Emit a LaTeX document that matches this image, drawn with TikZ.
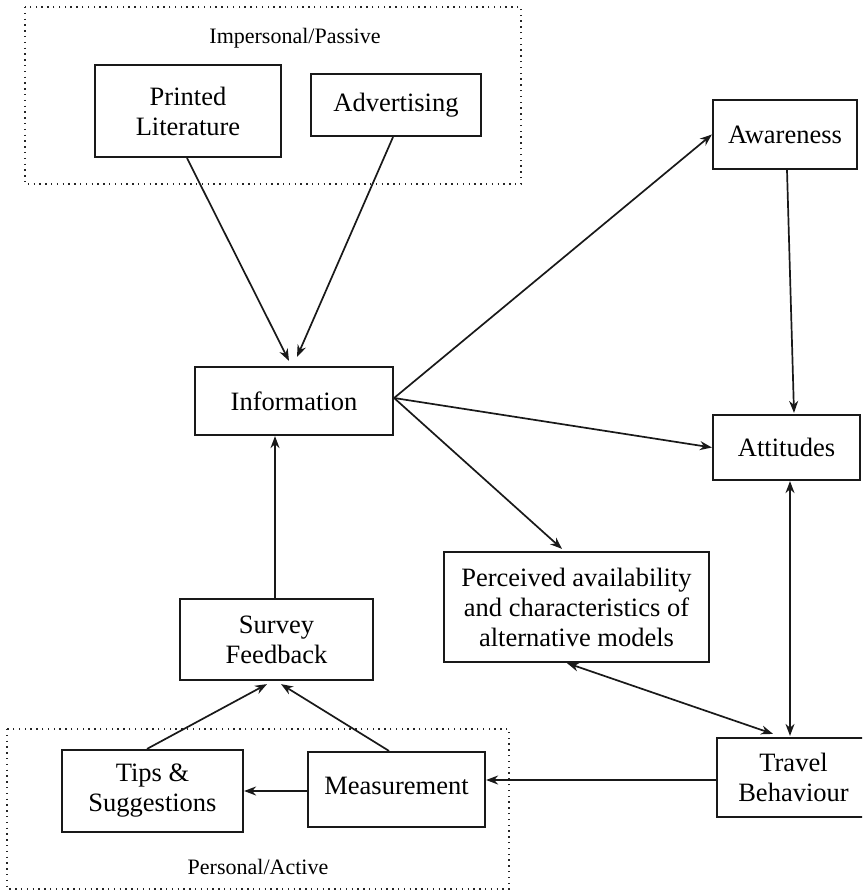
\documentclass[tikz,border=0pt]{standalone}
\usepackage{fontspec}
\setmainfont{Liberation Serif}
\usetikzlibrary{arrows.meta}
\begin{document}
\begin{tikzpicture}[x=1pt,y=-1pt,
  box/.style={draw=black!90, line width=2.2pt, align=center, inner sep=0pt,
    font=\fontsize{26.5}{30}\selectfont},
  arr/.style={line width=1.7pt, draw=black!90, -{Stealth[length=12pt,width=9pt]}},
  biarr/.style={line width=1.7pt, draw=black!90, {Stealth[length=12pt,width=9pt]}-{Stealth[length=12pt,width=9pt]}},
  dotbox/.style={draw=black!85, line width=1.5pt, dash pattern=on 1.4pt off 4.4pt},
  grouplabel/.style={font=\fontsize{22}{26}\selectfont, inner sep=0pt}]
\path[use as bounding box] (0,0) rectangle (862,893);
\clip (0,0) rectangle (862,893);

% group frames
\draw[dotbox] (25,7) rectangle (521,184);
\node[grouplabel] (gtop) at (295,38) {Impersonal/Passive};
\draw[dotbox] (7,729) rectangle (509,889);
\node[grouplabel] (gbot) at (258,867) {Personal/Active};

% boxes
\node[box, minimum width=186, minimum height=92] (pl) at (188,111) {Printed\\Literature};
\node[box, minimum width=170, minimum height=62] (adv) at (396,105) {Advertising};
\node[box, minimum width=198, minimum height=68] (info) at (294,401) {Information};
\node[box, minimum width=144, minimum height=69] (aw) at (785,134.5) {Awareness};
\node[box, minimum width=147, minimum height=65] (att) at (786.5,447.5) {Attitudes};
\node[box, minimum width=265, minimum height=110] (perc) at (576.5,607) {Perceived availability\\and characteristics of\\alternative models};
\node[box, minimum width=193, minimum height=81] (sur) at (276.5,639.5) {Survey\\Feedback};
\node[box, minimum width=181, minimum height=82] (tips) at (152.5,791) {Tips \&\\Suggestions};
\node[box, minimum width=177, minimum height=75, text height=26pt, text depth=16pt] (meas) at (396.5,789.5) {Measurement};
\node[box, minimum width=153, minimum height=79] (trav) at (793.5,777.5) {Travel\\Behaviour};

% connectors
\draw[arr] ([xshift=-1pt]pl.south) -- ([xshift=-5pt,yshift=5pt]info.north);
\draw[arr] ([xshift=-3pt]adv.south) -- ([xshift=3pt,yshift=9pt]info.north);
\draw[arr] ([yshift=3pt]info.east) -- (aw.west);
\draw[arr] ([yshift=3pt]info.east) -- (att.west);
\draw[arr] ([yshift=3pt]info.east) -- ([xshift=-14.5pt,yshift=2pt]perc.north);
\draw[arr] ([xshift=2pt]aw.south) -- ([xshift=7.5pt,yshift=1pt]att.north);
\draw[biarr] ([xshift=3.5pt]att.south) -- ([xshift=-3.5pt,yshift=1pt]trav.north);
\draw[biarr] ([xshift=-9.5pt]perc.south) -- ([xshift=-20.5pt,yshift=3pt]trav.north);
\draw[arr] ([yshift=-2.5pt]trav.west) -- ([yshift=-2.5pt]trav.west -| meas.east);
\draw[arr] ([yshift=-1.5pt]meas.west) -- ([yshift=-1.5pt]meas.west -| tips.east);
\draw[arr] ([xshift=-5.5pt]tips.north) -- ([xshift=-9.5pt,yshift=-3pt]sur.south);
\draw[arr] ([xshift=-7.5pt]meas.north) -- ([xshift=4.5pt,yshift=-3pt]sur.south);
\draw[arr] ([xshift=-1.5pt]sur.north) -- ([xshift=-1.5pt]sur.north |- info.south);
\end{tikzpicture}
\end{document}
